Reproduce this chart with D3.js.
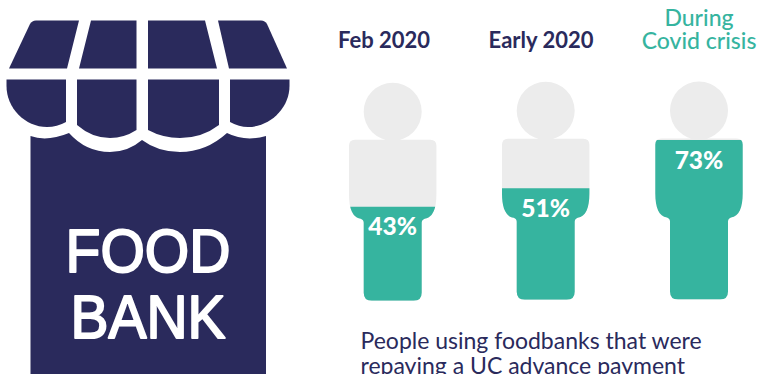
<!DOCTYPE html>
<html>
<head>
<meta charset="utf-8">
<script src="https://cdn.jsdelivr.net/npm/d3@7"></script>
<style>
html,body{margin:0;padding:0;background:#fff;overflow:hidden}
svg{display:block}
text{font-family:Lato,"Open Sans",sans-serif}
</style>
</head>
<body>
<svg id="chart" width="757" height="374"></svg>
<script>
const categories = ["Feb 2020", "Early 2020", "During|Covid crisis"];
const shares = [43, 51, 73];
const centers = [392.7, 545.7, 699];
const bases = [300.7, 299.8, 299.6];
const headingX = [384, 541, 699];
const captionLines = ["People using foodbanks that were", "repaying a UC advance payment"];
const signLines = ["FOOD", "BANK"];
const signWidths = [165, 155];

const NAVY = "#2a2a5c", TEAL = "#36b49f", GREY = "#ececec";
const svg = d3.select("#chart");
const defs = svg.append("defs");

// Shop awning panels and the scalloped shop front
const awning = [
  "M30,24 Q32,20.5 36,20.5 L79,20.5 L67,68.5 L9,68.5 Z",
  "M91,20.5 L136.5,20.5 L136.5,68.5 L79,68.5 Z",
  "M148,20.5 L205,20.5 L217,68.5 L148,68.5 Z",
  "M218,20.5 L261,20.5 Q265,20.5 267,24 L287,68.5 L229,68.5 Z",
  "M6.5,79.5 L66,79.5 L66,122 Q57,127 47,127 C25,127 6.5,108 6.5,86 Z",
  "M77,79.5 L136.5,79.5 L136.5,130 Q124,138 110,138 Q92,138 77,125 Z",
  "M148,79.5 L219,79.5 L219,125 Q202,138 180,138 Q163,138 148,130 Z",
  "M230,79.5 L289.5,79.5 L289.5,86 C289.5,108 270,127 248,127 Q239,127 230,122 Z"
];
const shopFront = "M30.5,136 Q47,142 69,133 Q86,152 110,152 Q128,152 142,140 Q158,152 180,152 Q206,152 227,133 Q245,142 266,136 L266,374 L30.5,374 Z";

const shop = svg.append("g");
shop.selectAll("path.awning").data(awning).join("path")
  .attr("class", "awning").attr("d", d => d).attr("fill", NAVY);
shop.append("path").attr("d", shopFront).attr("fill", NAVY);
shop.selectAll("text").data(signLines).join("text")
  .attr("x", 148).attr("y", (d, i) => 271.5 + i * 66.5)
  .attr("text-anchor", "middle")
  .attr("textLength", (d, i) => signWidths[i]).attr("lengthAdjust", "spacingAndGlyphs")
  .attr("fill", "#fff").attr("stroke", "#fff").attr("stroke-width", 2).attr("stroke-linejoin", "round")
  .style("font-family", "'Liberation Sans',sans-serif").style("font-size", "62px")
  .text(d => d);

// Person silhouette, 218 px tall, measured upward from its feet
function personPath(cx, base) {
  const p = d3.path();
  const top = base - 161, hip = base - 106, crotch = base - 82;
  const tw = 43.7, lw = 29, r = 6, f = 8;
  p.moveTo(cx - tw + r, top);
  p.lineTo(cx + tw - r, top);
  p.quadraticCurveTo(cx + tw, top, cx + tw, top + r);
  p.lineTo(cx + tw, hip);
  p.bezierCurveTo(cx + tw, crotch - 10, cx + lw + 11, crotch - 1, cx + lw + 3, crotch);
  p.quadraticCurveTo(cx + lw, crotch + 1, cx + lw, crotch + 4);
  p.lineTo(cx + lw, base - f);
  p.quadraticCurveTo(cx + lw, base, cx + lw - f, base);
  p.lineTo(cx - lw + f, base);
  p.quadraticCurveTo(cx - lw, base, cx - lw, base - f);
  p.lineTo(cx - lw, crotch + 4);
  p.quadraticCurveTo(cx - lw, crotch + 1, cx - lw - 3, crotch);
  p.bezierCurveTo(cx - lw - 11, crotch - 1, cx - tw, crotch - 10, cx - tw, hip);
  p.lineTo(cx - tw, top + r);
  p.quadraticCurveTo(cx - tw, top, cx - tw + r, top);
  p.closePath();
  p.moveTo(cx + 29, base - 189);
  p.arc(cx, base - 189, 29, 0, 2 * Math.PI);
  p.closePath();
  return p.toString();
}

const figures = svg.selectAll("g.figure")
  .data(categories.map((c, i) => ({c, v: shares[i], cx: centers[i], base: bases[i], i})))
  .join("g").attr("class", "figure");

figures.each(function(d) {
  const g = d3.select(this);
  const y = d3.scaleLinear().domain([0, 100]).range([d.base, d.base - 218.5]);
  const outline = personPath(d.cx, d.base);
  g.append("path").attr("d", outline).attr("fill", GREY);
  defs.append("clipPath").attr("id", "level" + d.i).append("rect")
    .attr("x", d.cx - 50).attr("width", 100)
    .attr("y", y(d.v)).attr("height", y(0) - y(d.v));
  g.append("path").attr("d", outline).attr("fill", TEAL).attr("clip-path", `url(#level${d.i})`);
  g.append("text").attr("x", d.cx).attr("y", y(d.v) + 28.5)
    .attr("text-anchor", "middle").attr("fill", "#fff")
    .style("font-weight", 900).style("font-size", "24.5px")
    .text(d.v + "%");
});

// Column headings
const highlight = 2;
categories.forEach((c, i) => {
  c.split("|").forEach((ln, k) => {
    svg.append("text")
      .attr("x", headingX[i])
      .attr("y", i === highlight ? 26 + k * 23 : 48)
      .attr("text-anchor", "middle")
      .attr("fill", i === highlight ? TEAL : NAVY)
      .style("font-weight", i === highlight ? 500 : 700)
      .style("font-size", i === highlight ? "23px" : "22px")
      .text(ln);
  });
});

// Caption, running off the bottom edge
svg.selectAll("text.caption").data(captionLines).join("text")
  .attr("class", "caption").attr("x", 360.5).attr("y", (d, i) => 349 + i * 25)
  .attr("fill", NAVY).style("font-size", "23px").text(d => d);
</script>
</body>
</html>
